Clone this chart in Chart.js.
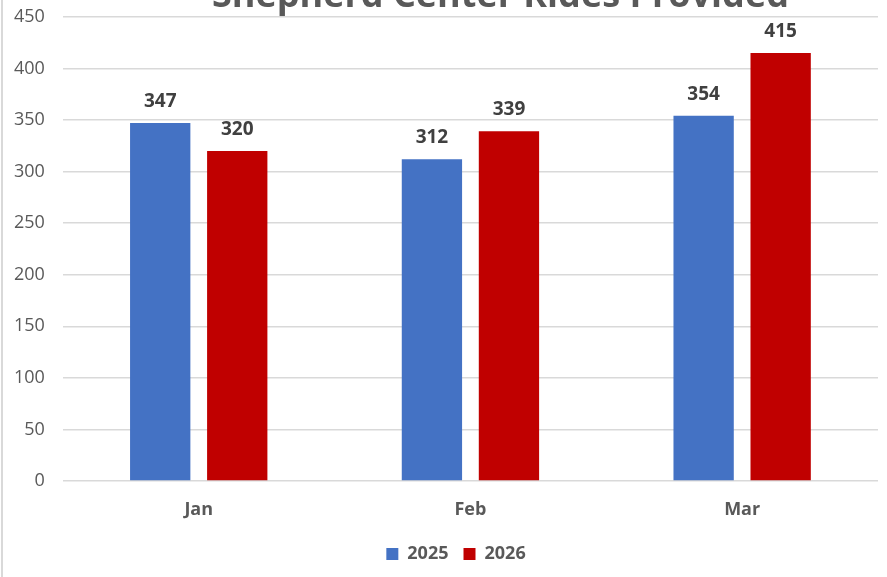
<!DOCTYPE html>
<html>
<head>
<meta charset="utf-8">
<script src="https://cdn.jsdelivr.net/npm/chart.js@4"></script>
<style>
  html, body { margin: 0; padding: 0; background: #fff; overflow: hidden; }
  #wrap { position: absolute; left: -4px; top: -12px; width: 891px; height: 589px; }
  #edge { position: absolute; left: 1px; top: 0; width: 2px; height: 577px; background: #d9d9d9; }
</style>
</head>
<body>
<div id="wrap"><canvas id="ridesChart"></canvas></div>
<div id="edge"></div>
<script>
const chartTitle = "Shepherd Center Rides Provided";
const months = ["Jan", "Feb", "Mar"];
const rides2025 = [347, 312, 354];
const rides2026 = [320, 339, 415];
const seriesNames = ["2025", "2026"];

const FONT = "'Open Sans', 'Noto Sans', sans-serif";
const LEGEND_SHIFT = 19; // legend sits a bit right of centre in the original

// value labels above each bar
const barLabels = {
  id: "barLabels",
  afterLayout(chart) {
    chart.legend.left += LEGEND_SHIFT;
    chart.legend.right += LEGEND_SHIFT;
  },
  afterDatasetsDraw(chart) {
    const ctx = chart.ctx;
    ctx.save();
    ctx.font = "bold 19px " + FONT;
    ctx.fillStyle = "#404040";
    ctx.textAlign = "center";
    ctx.textBaseline = "alphabetic";
    chart.data.datasets.forEach((ds, i) => {
      chart.getDatasetMeta(i).data.forEach((bar, j) => {
        ctx.fillText(ds.data[j], bar.x, bar.y - 16);
      });
    });
    ctx.restore();
  },
};

// title, cut off at the top like the screenshot
const topTitle = {
  id: "topTitle",
  afterDraw(chart) {
    const ctx = chart.ctx;
    const area = chart.chartArea;
    ctx.save();
    ctx.font = "bold 36px " + FONT;
    ctx.fillStyle = "#595959";
    ctx.textAlign = "center";
    ctx.textBaseline = "alphabetic";
    ctx.fillText(chartTitle, (area.left + area.right) / 2 + 30, 18.5);
    ctx.restore();
  },
};

const ctx = document.getElementById("ridesChart").getContext("2d");
new Chart(ctx, {
  type: "bar",
  data: {
    labels: months,
    datasets: [
      {
        label: seriesNames[0],
        data: rides2025,
        backgroundColor: "#4472C4",
        categoryPercentage: 0.567,
        barPercentage: 0.783,
      },
      {
        label: seriesNames[1],
        data: rides2026,
        backgroundColor: "#C00000",
        categoryPercentage: 0.567,
        barPercentage: 0.783,
      },
    ],
  },
  options: {
    responsive: true,
    maintainAspectRatio: false,
    animation: false,
    layout: { padding: { left: 0, right: 9, top: 0, bottom: 4 } },
    scales: {
      y: {
        min: 0,
        max: 450,
        ticks: { stepSize: 50, color: "#595959", font: { family: FONT, size: 18 }, padding: 18 },
        grid: { color: "#d9d9d9", lineWidth: 1.5, drawTicks: false },
        border: { display: false },
      },
      x: {
        ticks: { color: "#595959", font: { family: FONT, size: 18, weight: "bold" }, padding: 18 },
        grid: { display: false, drawTicks: false },
        border: { display: false },
        afterFit(scale) { scale.height = 49; },
      },
    },
    plugins: {
      legend: {
        position: "bottom",
        labels: {
          color: "#595959",
          font: { family: FONT, size: 18, weight: "bold" },
          boxWidth: 12,
          boxHeight: 12,
          padding: 15,
        },
      },
      tooltip: { enabled: false },
    },
  },
  plugins: [barLabels, topTitle],
});
</script>
</body>
</html>
